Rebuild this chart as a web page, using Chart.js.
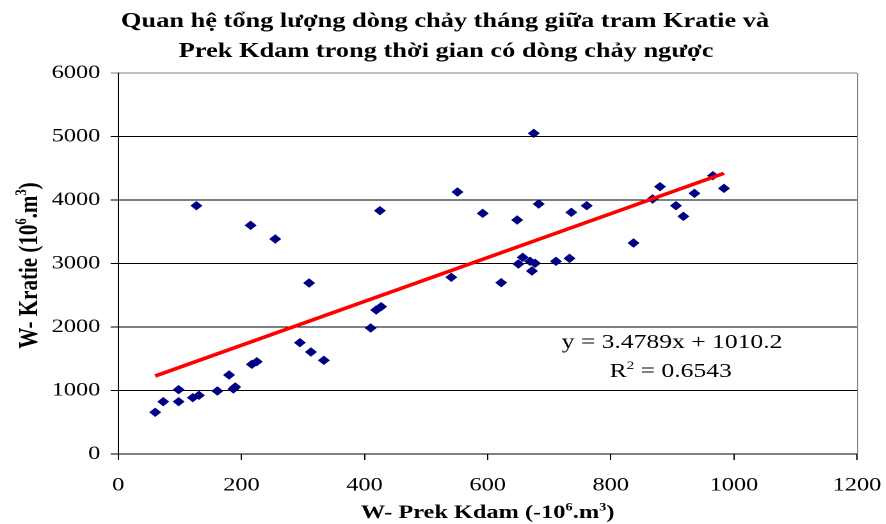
<!DOCTYPE html>
<html>
<head>
<meta charset="utf-8">
<script src="https://cdn.jsdelivr.net/npm/chart.js@4.4.1/dist/chart.umd.min.js"></script>
<style>
html, body { margin: 0; padding: 0; background: #fff; overflow: hidden; }
/* el grafico original esta estirado en horizontal */
#wrap { width: 692px; height: 524px; transform: scaleX(1.28); transform-origin: 0 0; }
</style>
</head>
<body>
<div id="wrap"><canvas id="miGrafica" width="692" height="524"></canvas></div>
<script>
// W- Prek Kdam (x) y W- Kratie (y), 10^6 m3
let kdam = [60, 73, 98, 98, 121, 131, 127, 161, 180, 187,
            190, 215, 217, 225, 255, 295, 310, 313, 334, 410,
            419, 427, 425, 541, 551, 592, 622, 648, 650, 657,
            669, 677, 672, 675, 683, 711, 733, 736, 761, 837,
            868, 880, 906, 918, 936, 966, 984]
let kratie = [657, 824, 1013, 824, 887, 924, 3910, 992, 1244, 1024,
              1055, 3601, 1412, 1454, 3386, 1753, 2693, 1606, 1475, 1984,
              2268, 2320, 3832, 2783, 4126, 3790, 2698, 3685, 2992, 3097,
              3034, 3003, 2882, 5050, 3937, 3034, 3081, 3806, 3910, 3323,
              4016, 4210, 3910, 3743, 4105, 4383, 4184]

// linea de tendencia (extremos)
let tendX = [60, 984]
let tendY = [1228, 4420]

let ticksX = [0, 200, 400, 600, 800, 1000, 1200]
let ticksY = [0, 1000, 2000, 3000, 4000, 5000, 6000]

let titulo1 = "Quan hệ tổng lượng dòng chảy tháng giữa tram Kratie và"
let titulo2 = "Prek Kdam trong thời gian có dòng chảy ngược"

const fuente = '"Liberation Serif", "Times New Roman", serif'
Chart.defaults.font.family = fuente
Chart.defaults.color = "#000"

function textoRico(ctx, partes, x, y, size, bold) {
    const f = (s) => (bold ? "bold " : "") + s + "px " + fuente
    let total = 0
    partes.forEach(p => { ctx.font = f(p[1] ? size * 0.6 : size); total += ctx.measureText(p[0]).width })
    let cx = x - total / 2
    ctx.textAlign = "left"
    ctx.textBaseline = "alphabetic"
    partes.forEach(p => {
        ctx.font = f(p[1] ? size * 0.6 : size)
        ctx.fillText(p[0], cx, p[1] ? y - size * 0.4 : y)
        cx += ctx.measureText(p[0]).width
    })
}

const textos = {
    id: "textos",
    beforeDatasetsDraw(chart) {
        const ctx = chart.ctx, a = chart.chartArea
        ctx.save()
        ctx.strokeStyle = "#808080"
        ctx.lineWidth = 1
        ctx.beginPath()
        ctx.moveTo(a.right + 0.5, a.top)
        ctx.lineTo(a.right + 0.5, a.bottom)
        ctx.stroke()
        ctx.restore()
    },
    afterDraw(chart) {
        const ctx = chart.ctx, a = chart.chartArea
        ctx.save()
        ctx.fillStyle = "#000"
        const cx = (a.left + a.right) / 2
        textoRico(ctx, [[titulo1, false]], 347.7, 27, 20.6, true)
        textoRico(ctx, [[titulo2, false]], 348.5, 57, 20.6, true)
        textoRico(ctx, [["W- Prek Kdam (-10", false], ["6", true], [".m", false], ["3", true], [")", false]], cx, 518, 19, true)
        textoRico(ctx, [["y = 3.4789x + 1010.2", false]], 525, 348, 20, false)
        textoRico(ctx, [["R", false], ["2", true], [" = 0.6543", false]], 524, 377, 20, false)
        ctx.translate(29, (a.top + a.bottom) / 2 + 2)
        ctx.rotate(-Math.PI / 2)
        textoRico(ctx, [["W- Kratie (10", false], ["6", true], [".m", false], ["3", true], [")", false]], 0, 0, 21, true)
        ctx.restore()
    }
}

let miCanvas = document.getElementById("miGrafica").getContext("2d")

let chart = new Chart(miCanvas, {
    type: "scatter",
    data: {
        datasets: [
            {
                label: "Kratie - Prek Kdam",
                data: kdam.map((v, i) => ({ x: v, y: kratie[i] })),
                pointStyle: "rectRot",
                pointRadius: 4,
                backgroundColor: "#000080",
                borderColor: "#000080",
                borderWidth: 1,
                order: 2
            },
            {
                label: "Tendencia",
                type: "line",
                data: tendX.map((v, i) => ({ x: v, y: tendY[i] })),
                borderColor: "#ff0000",
                borderWidth: 3.5,
                pointRadius: 0,
                fill: false,
                order: 1
            }
        ]
    },
    options: {
        responsive: false,
        devicePixelRatio: 2,
        animation: false,
        layout: { padding: { top: 73, right: 22.5, left: 0, bottom: 0 } },
        plugins: {
            legend: { display: false },
            tooltip: { enabled: false }
        },
        scales: {
            x: {
                type: "linear",
                min: 0,
                max: 1200,
                afterFit: (s) => { s.height = 70; s.paddingLeft = 0; s.paddingRight = 0 },
                afterBuildTicks: (s) => { s.ticks = ticksX.map(v => ({ value: v })) },
                grid: { drawOnChartArea: false, color: "#000", tickLength: 6 },
                border: { color: "#000", width: 1 },
                ticks: { font: { size: 19 }, padding: 14, maxRotation: 0, autoSkip: false, callback: (v) => String(v) }
            },
            y: {
                min: 0,
                max: 6000,
                afterFit: (s) => { s.width = 92.4; s.paddingTop = 0; s.paddingBottom = 0 },
                afterBuildTicks: (s) => { s.ticks = ticksY.map(v => ({ value: v })) },
                grid: { color: (c) => c.tick && c.tick.value == 6000 ? "#808080" : "#000", tickLength: 6 },
                border: { color: "#000", width: 1 },
                ticks: { font: { size: 19 }, padding: 8, callback: (v) => String(v) }
            }
        }
    },
    plugins: [textos]
})
</script>
</body>
</html>
